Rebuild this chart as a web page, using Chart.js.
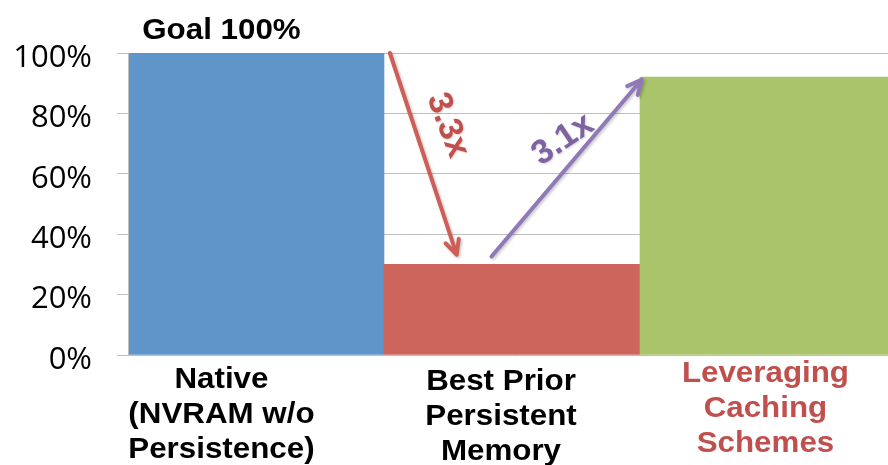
<!DOCTYPE html>
<html>
<head>
<meta charset="utf-8">
<script src="https://cdn.jsdelivr.net/npm/chart.js@4.4.1/dist/chart.umd.min.js"></script>
<style>
  html, body { margin: 0; padding: 0; overflow: hidden; background: #fff; }
  #wrap { position: absolute; left: 0; top: 0; width: 896px; height: 465px; }
</style>
</head>
<body>
<div id="wrap"><canvas id="c" width="896" height="465"></canvas></div>
<script>
// Categories (one entry per line of the axis label)
const categories = [
  ['Native', '(NVRAM w/o', 'Persistence)'],
  ['Best Prior', 'Persistent', 'Memory'],
  ['Leveraging', 'Caching', 'Schemes']
];
// Relative performance, percent of native
const performance = [100, 30, 92];
const yTickStep = 20;
const yMax = 100;

const barColors = ['#5F95C9', '#CD655D', '#A9C46B'];
const labelColors = ['#000000', '#000000', '#C0504D'];

const ratio = (a, b) => (a / b).toFixed(1) + 'x';

// Draws text stretched horizontally around its anchor
function wideText(ctx, text, x, y, sx) {
  ctx.save();
  ctx.translate(x, y);
  ctx.scale(sx, 1);
  ctx.fillText(text, 0, 0);
  ctx.restore();
}

function arrow(ctx, x0, y0, x1, y1, color) {
  ctx.save();
  ctx.strokeStyle = color;
  ctx.lineWidth = 4;
  ctx.lineCap = 'round';
  ctx.lineJoin = 'round';
  ctx.shadowColor = 'rgba(0,0,0,0.22)';
  ctx.shadowBlur = 3;
  ctx.shadowOffsetX = 1.5;
  ctx.shadowOffsetY = 1.5;
  const a = Math.atan2(y1 - y0, x1 - x0), len = 16, spread = 0.45;
  ctx.beginPath();
  ctx.moveTo(x0, y0);
  ctx.lineTo(x1, y1);
  ctx.moveTo(x1 - len * Math.cos(a - spread), y1 - len * Math.sin(a - spread));
  ctx.lineTo(x1, y1);
  ctx.lineTo(x1 - len * Math.cos(a + spread), y1 - len * Math.sin(a + spread));
  ctx.stroke();
  ctx.restore();
}

function rotatedText(ctx, text, x, y, deg, color) {
  ctx.save();
  ctx.translate(x, y);
  ctx.rotate(deg * Math.PI / 180);
  ctx.font = 'bold 34px "Liberation Sans", Arial, sans-serif';
  ctx.fillStyle = color;
  ctx.textAlign = 'center';
  ctx.textBaseline = 'middle';
  ctx.shadowColor = 'rgba(0,0,0,0.18)';
  ctx.shadowBlur = 2;
  ctx.shadowOffsetX = 1;
  ctx.shadowOffsetY = 1;
  ctx.fillText(text, 0, 0);
  ctx.restore();
}

const annotations = {
  id: 'annotations',
  afterDatasetsDraw(chart, args, o) {
    const { ctx, scales: { x, y } } = chart;
    const X = v => x.getPixelForValue(v);
    const Y = v => y.getPixelForValue(v);
    const bottom = chart.chartArea.bottom;

    // Category labels under the bars
    ctx.save();
    ctx.font = 'bold 29px "Liberation Sans", Arial, sans-serif';
    ctx.textAlign = 'center';
    ctx.textBaseline = 'alphabetic';
    categories.forEach((lines, i) => {
      ctx.fillStyle = labelColors[i];
      lines.forEach((t, k) => {
        wideText(ctx, t, X(i + o.labelShift[i]), bottom + o.labelDrop[i] + k * o.lineHeight, 1.08);
      });
    });

    // Goal caption above the first bar
    ctx.fillStyle = '#000';
    wideText(ctx, 'Goal ' + performance[0] + '%', X(o.goalShift), Y(performance[0]) - 14, 1.08);
    ctx.restore();

    // Drop from native to prior work, then the gain from caching
    arrow(ctx, X(0.523), Y(performance[0]), X(0.784), Y(33.2), '#CD5F58');
    arrow(ctx, X(0.92), Y(32.6), X(1.507), Y(91.2), '#9179B8');

    rotatedText(ctx, ratio(performance[0], performance[1]), X(0.748), Y(76.1), 69, '#C0504D');
    rotatedText(ctx, ratio(performance[2], performance[1]), X(1.199), Y(71.3), -34, '#7F63A1');
  }
};

new Chart(document.getElementById('c'), {
  type: 'bar',
  data: {
    labels: categories.map(l => l.join(' ')),
    datasets: [{
      data: performance,
      backgroundColor: barColors,
      borderWidth: 0,
      barPercentage: 1,
      categoryPercentage: 1
    }]
  },
  options: {
    responsive: false,
    animation: false,
    devicePixelRatio: 1,
    layout: { padding: { top: 53, right: 0, bottom: 0, left: 0 } },
    plugins: {
      legend: { display: false },
      tooltip: { enabled: false },
      annotations: {
        labelShift: [-0.135, -0.043, -0.01],
        labelDrop: [33, 35, 27],
        lineHeight: 35,
        goalShift: -0.135
      }
    },
    scales: {
      x: {
        grid: { display: false },
        border: { display: false },
        ticks: { display: false },
        afterFit: s => { s.height = 110; }
      },
      y: {
        min: 0,
        max: yMax,
        ticks: {
          stepSize: yTickStep,
          padding: 25,
          labelOffset: 5,
          color: '#000',
          font: { family: '"Open Sans", "Liberation Sans", sans-serif', size: 31 },
          callback: v => v + '%'
        },
        grid: { color: '#BEBEBE', lineWidth: 1, tickLength: 11, drawTicks: true },
        border: { display: true, color: '#BEBEBE', width: 1, z: 1 },
        afterFit: s => { s.width = 128; }
      }
    }
  },
  plugins: [annotations]
});
</script>
</body>
</html>
